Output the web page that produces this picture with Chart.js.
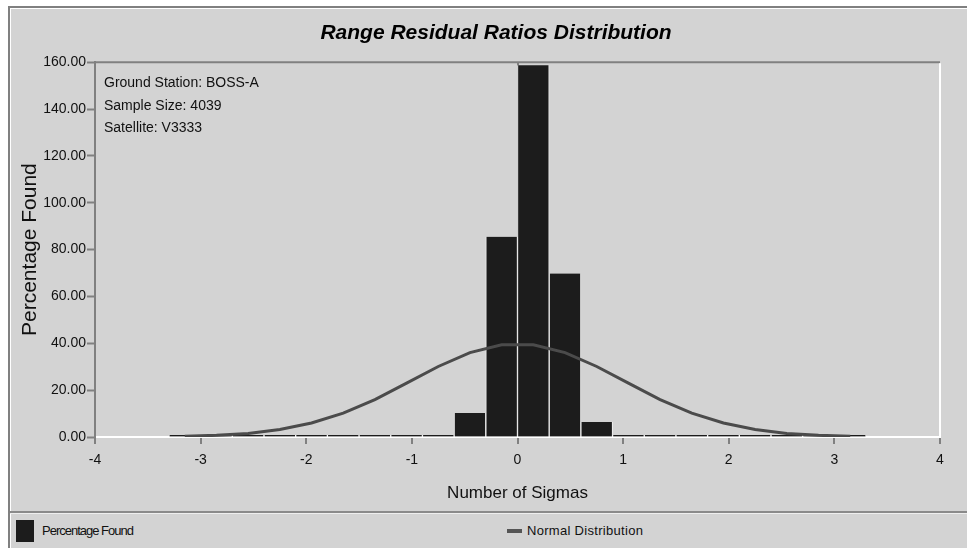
<!DOCTYPE html>
<html>
<head>
<meta charset="utf-8">
<title>Range Residual Ratios Distribution</title>
<script src="https://cdn.jsdelivr.net/npm/chart.js@4.4.1/dist/chart.umd.min.js"></script>
<style>
  body { margin: 0; background: #fff; width: 967px; height: 548px; overflow: hidden; position: relative;
         font-family: 'Liberation Sans', Arial, sans-serif; color: #111; }
  #panel { position: absolute; left: 8px; top: 6px; width: 1000px; height: 600px; background: #d3d3d3;
           border-left: 2px solid #808080; border-top: 2px solid #808080; box-shadow: inset 1px 1px 0 #fff; }
  #sep { position: absolute; left: 10px; top: 511px; width: 1000px; border-top: 2px solid #8a8a8a; border-bottom: 1px solid #eee; }
  /* o painel original é mais largo que a janela: o canvas passa da borda direita */
  #chartBox { position: absolute; left: 0; top: 0; width: 992px; height: 510px; }
  .swatch { position: absolute; background: #1c1c1c; }
  .lbl { position: absolute; font-size: 13px; line-height: 16px; }
</style>
</head>
<body>
<div id="panel"></div>
<div id="chartBox"><canvas id="distChart"></canvas></div>
<div id="sep"></div>

<!-- legenda -->
<div class="swatch" style="left:16px; top:520px; width:18px; height:22px;"></div>
<div class="lbl" style="left:42px; top:523px; letter-spacing:-1px;">Percentage Found</div>
<div class="swatch" style="left:507px; top:529px; width:15px; height:4px; background:#555;"></div>
<div class="lbl" style="left:527px; top:523px; letter-spacing:0.3px;">Normal Distribution</div>

<script>
// dados
const binCenters = [-3.15, -2.85, -2.55, -2.25, -1.95, -1.65, -1.35, -1.05, -0.75, -0.45, -0.15,
                    0.15, 0.45, 0.75, 1.05, 1.35, 1.65, 1.95, 2.25, 2.55, 2.85, 3.15];
const percentageFound = [0.3, 0.3, 0.3, 0.3, 0.3, 0.3, 0.3, 0.3, 0.9, 10.2, 85.5,
                         158.7, 69.8, 6.4, 0.4, 0.3, 0.3, 0.3, 0.3, 0.3, 0.3, 0.3];
const normalDist = [0.3, 0.7, 1.5, 3.2, 6.0, 10.2, 16.0, 23.0, 30.1, 36.0, 39.4,
                    39.4, 36.0, 30.1, 23.0, 16.0, 10.2, 6.0, 3.2, 1.5, 0.7, 0.3];
const infoLines = ['Ground Station: BOSS-A', 'Sample Size: 4039', 'Satellite: V3333'];

const FONT = "'Liberation Sans', Arial, sans-serif";
Chart.defaults.font.family = FONT;
Chart.defaults.color = '#111';

// moldura do gráfico + texto informativo
const framePlugin = {
  id: 'frame',
  afterDraw(chart) {
    const { ctx, chartArea: a } = chart;
    ctx.save();
    ctx.lineWidth = 2;
    ctx.strokeStyle = '#808080';
    ctx.beginPath();
    ctx.moveTo(a.left, a.top);
    ctx.lineTo(a.right, a.top);
    ctx.stroke();
    ctx.strokeStyle = '#ffffff';
    ctx.beginPath();
    ctx.moveTo(a.right, a.top + 1);
    ctx.lineTo(a.right, a.bottom);
    ctx.stroke();

    ctx.fillStyle = '#111';
    ctx.font = '14px ' + FONT;
    ctx.textBaseline = 'middle';
    infoLines.forEach((t, i) => ctx.fillText(t, a.left + 9, a.top + 21 + i * 22.5));
    ctx.restore();
  }
};

const ctx = document.getElementById('distChart').getContext('2d');
new Chart(ctx, {
  type: 'bar',
  data: {
    datasets: [{
      type: 'line',
      label: 'Normal Distribution',
      data: binCenters.map((x, i) => ({ x: x, y: normalDist[i] })),
      borderColor: '#4b4b4b',
      borderWidth: 3,
      pointRadius: 0,
      tension: 0,
      order: 0
    }, {
      label: 'Percentage Found',
      data: binCenters.map((x, i) => ({ x: x, y: percentageFound[i] })),
      backgroundColor: '#1c1c1c',
      borderColor: '#f2f2f2',
      borderWidth: { left: 1, right: 1, top: 0, bottom: 0 },
      barPercentage: 1,
      categoryPercentage: 1,
      minBarLength: 2,
      order: 1
    }]
  },
  options: {
    responsive: true,
    maintainAspectRatio: false,
    animation: false,
    layout: { padding: 0 },
    plugins: {
      legend: { display: false },
      tooltip: { enabled: false },
      title: {
        display: true,
        text: 'Range Residual Ratios Distribution',
        color: '#000',
        font: { size: 21, weight: 'bold', style: 'italic' },
        padding: { top: 21, bottom: 16 }
      }
    },
    scales: {
      x: {
        type: 'linear',
        min: -4,
        max: 4,
        offset: false,
        z: 1,
        afterFit: (s) => { s.height = 73; },
        ticks: { stepSize: 1, font: { size: 14 }, padding: 8, maxRotation: 0 },
        grid: {
          offset: false,
          color: (c) => (c.tick && c.tick.value === 0 ? '#808080' : 'rgba(0,0,0,0)'),
          lineWidth: 2,
          tickLength: 7,
          tickColor: '#808080',
          tickWidth: 2
        },
        border: { color: '#ffffff', width: 2 },
        title: { display: true, text: 'Number of Sigmas', font: { size: 17 }, padding: { top: 4, bottom: 6 } }
      },
      y: {
        min: 0,
        max: 160,
        afterFit: (s) => { s.width = 95; },
        ticks: { stepSize: 20, font: { size: 14 }, padding: 1, callback: (v) => v.toFixed(2) },
        grid: { drawOnChartArea: false, tickLength: 8, tickColor: '#808080', tickWidth: 2 },
        border: { color: '#808080', width: 2 },
        title: { display: true, text: 'Percentage Found', font: { size: 21 }, padding: { top: 18, bottom: 0 } }
      },
      // margem direita vazia (resto do painel), só ocupa espaço
      yRight: {
        position: 'right',
        afterFit: (s) => { s.width = 52; },
        ticks: { display: false },
        grid: { display: false },
        border: { display: false }
      }
    }
  },
  plugins: [framePlugin]
});
</script>
</body>
</html>
